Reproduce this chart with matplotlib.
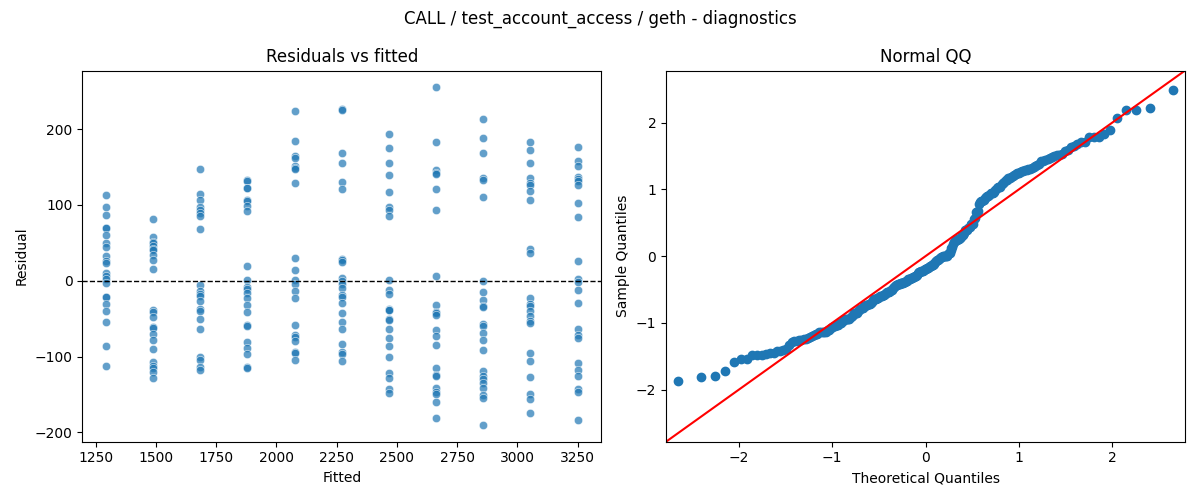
from statistics import NormalDist

import numpy as np
import matplotlib
matplotlib.use("Agg")
import matplotlib.pyplot as plt
import seaborn as sns

# Fitted levels (one per group) and the residuals
fitted_levels = [1293, 1489, 1684, 1880, 2076, 2271, 2467, 2663, 2858, 3054, 3250]

resid_1293 = [113, 97, 87, 70, 69, 60, 50, 44, 33, 26, 23, 10, 6, 2, -3,
              -21, -22, -31, -40, -54, -86, -112]
resid_1489 = [81, 58, 51, 50, 46, 42, 41, 34, 28, 15, -38, -41, -48, -61,
              -62, -70, -78, -90, -107, -112, -115, -120, -128]
resid_1684 = [148, 115, 107, 98, 93, 90, 86, 68, -6, -13, -18, -20, -27,
              -37, -40, -51, -63, -100, -104, -114, -117]
resid_1880 = [133, 131, 123, 122, 107, 105, 99, 92, 20, 1, -8, -11, -16,
              -23, -32, -41, -58, -60, -81, -89, -97, -114, -115]
resid_2076 = [224, 184, 164, 162, 152, 149, 147, 129, 30, 14, 1, -4, -14,
              -23, -58, -72, -74, -79, -94, -95, -104]
resid_2271 = [227, 225, 168, 156, 130, 121, 29, 27, 25, 4, 0, -4, -10, -19,
              -21, -29, -42, -54, -64, -83, -94, -96, -106]
resid_2467 = [194, 175, 155, 139, 117, 98, 94, 86, 1, -12, -17, -37, -38,
              -39, -51, -52, -64, -75, -86, -100, -122, -128, -143, -148]
resid_2663 = [255, 183, 146, 142, 141, 121, 93, 6, -32, -41, -42, -45, -65,
              -73, -85, -115, -124, -126, -142, -147, -149, -160, -181]
resid_2858 = [213, 188, 169, 136, 133, 111, 0, -15, -25, -33, -34, -57, -60,
              -69, -78, -91, -119, -125, -130, -135, -141, -150, -155, -190]
resid_3054 = [183, 173, 156, 135, 129, 127, 118, 107, 42, 37, -23, -31, -33,
              -40, -46, -53, -55, -95, -106, -127, -149, -156, -174]
resid_3250 = [176, 158, 151, 137, 134, 132, 126, 102, 84, 26, 2, -2, -12,
              -29, -64, -71, -75, -108, -117, -125, -143, -147, -183]

residual_groups = [resid_1293, resid_1489, resid_1684, resid_1880, resid_2076,
                   resid_2271, resid_2467, resid_2663, resid_2858, resid_3054,
                   resid_3250]

fitted = np.concatenate([[f] * len(r) for f, r in zip(fitted_levels, residual_groups)])
resid = np.concatenate(residual_groups).astype(float)

# QQ: standardised residuals against normal plotting positions i/(n+1)
n = len(resid)
sample_q = np.sort((resid - resid.mean()) / resid.std())
theo_q = np.array([NormalDist().inv_cdf(i / (n + 1)) for i in range(1, n + 1)])

fig, (ax1, ax2) = plt.subplots(1, 2, figsize=(12, 5), dpi=100)

sns.scatterplot(x=fitted, y=resid, alpha=0.7, ax=ax1)
ax1.axhline(0, color="black", linestyle="--", linewidth=1)
ax1.set_title("Residuals vs fitted")
ax1.set_xlabel("Fitted")
ax1.set_ylabel("Residual")

ax2.plot(theo_q, sample_q, "o", color="C0", markersize=6)
lims = [-2.78, 2.78]
ax2.plot(lims, lims, "r")
ax2.set_xlim(lims)
ax2.set_ylim(lims)
ax2.set_title("Normal QQ")
ax2.set_xlabel("Theoretical Quantiles")
ax2.set_ylabel("Sample Quantiles")

fig.suptitle("CALL / test_account_access / geth - diagnostics")
fig.tight_layout()
fig.savefig("out.png")
